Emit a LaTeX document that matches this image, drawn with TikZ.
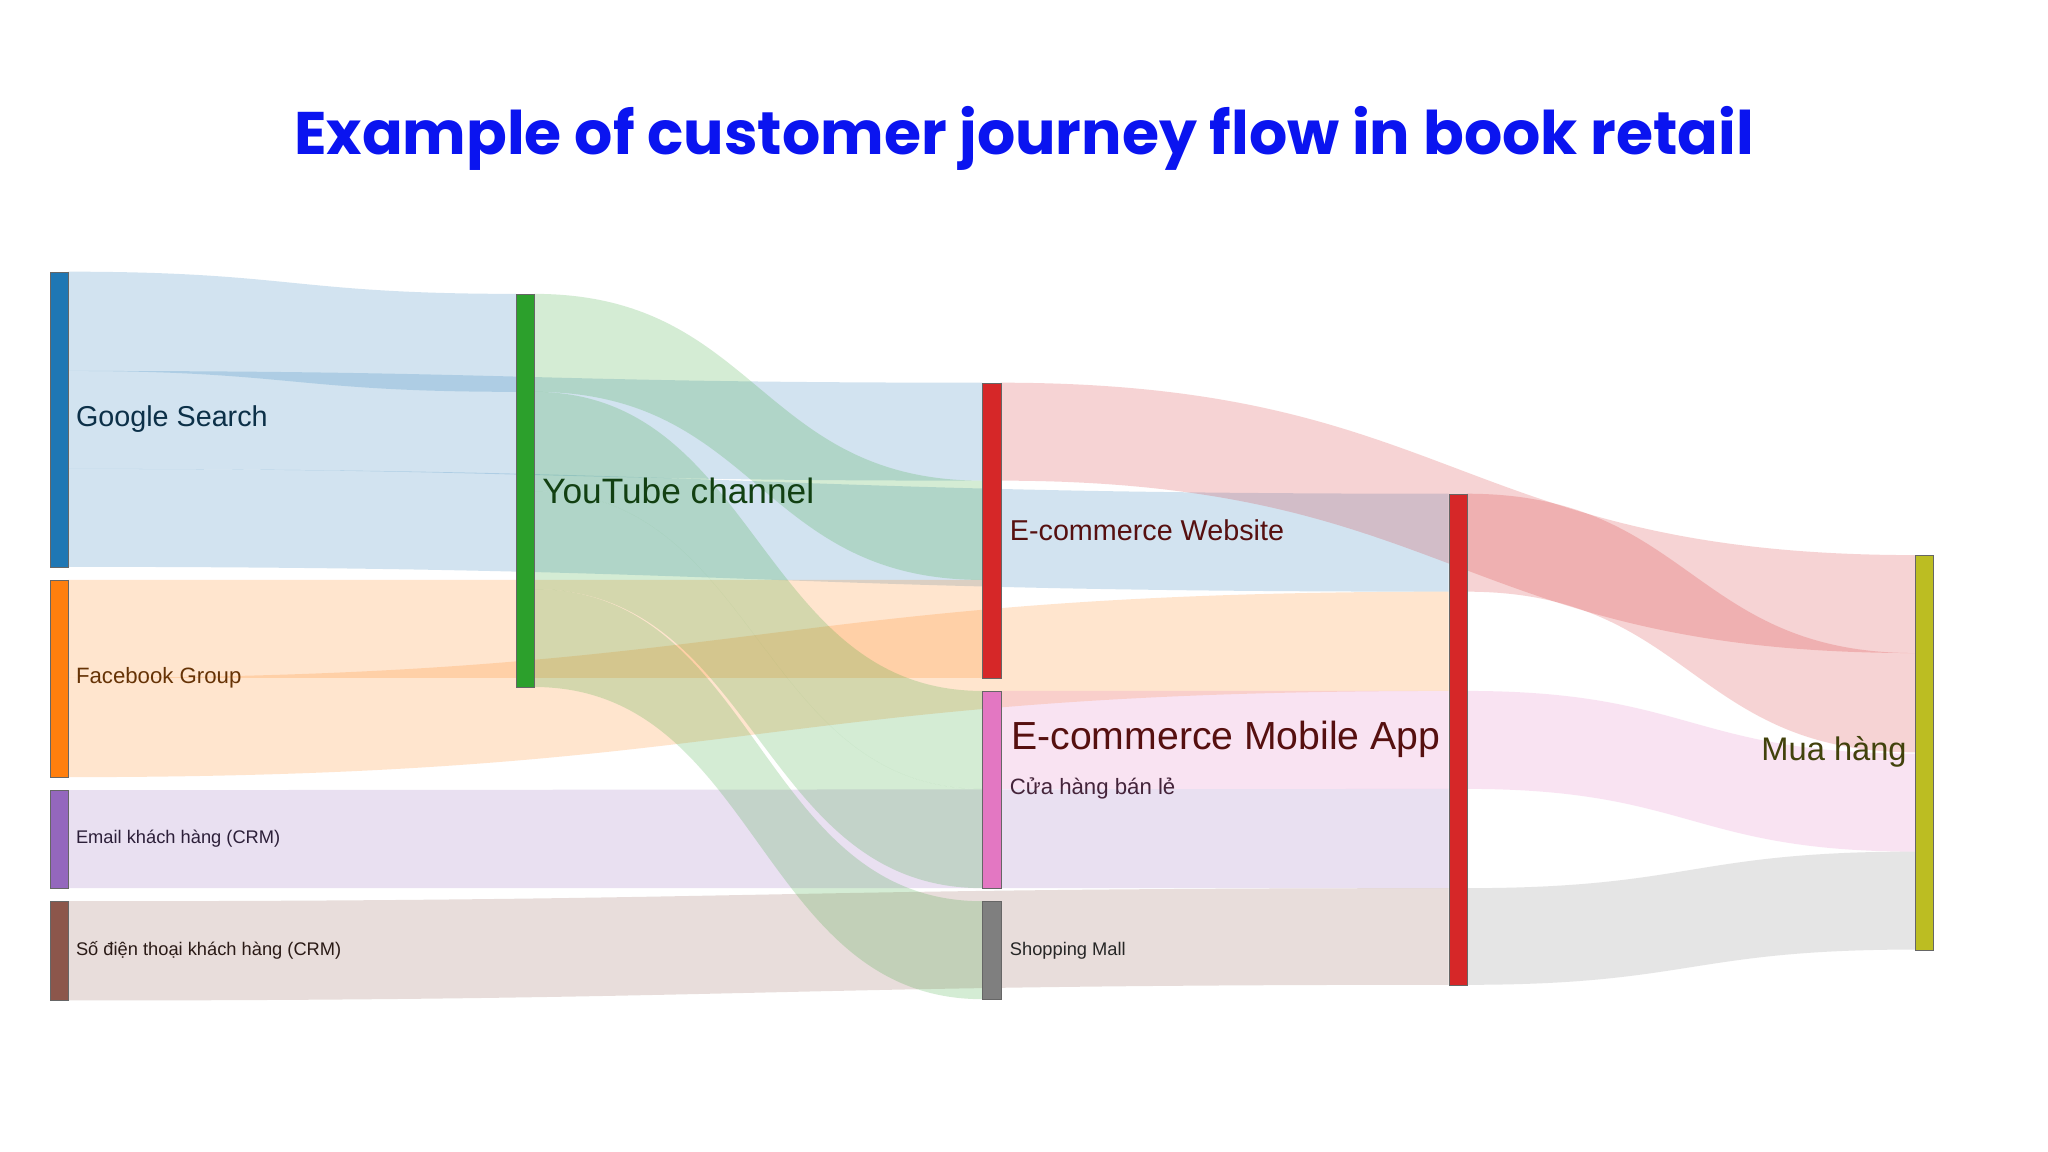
\documentclass[tikz,border=0pt]{standalone}
\usepackage{fontspec}
\setmainfont{Liberation Sans}
\newfontfamily\titlefont{Poppins}
\usetikzlibrary{positioning}
\definecolor{cgoogle}{HTML}{1F77B4}
\definecolor{cfb}{HTML}{FF7F0E}
\definecolor{cyt}{HTML}{2CA02C}
\definecolor{cweb}{HTML}{D62728}
\definecolor{cmail}{HTML}{9467BD}
\definecolor{cphone}{HTML}{8C564B}
\definecolor{capp}{HTML}{E377C2}
\definecolor{cmall}{HTML}{7F7F7F}
\definecolor{cbuy}{HTML}{BCBD22}
\definecolor{ctitle}{HTML}{0A14F0}
% band from (x1, a1..b1) to (x2, a2..b2)
\newcommand{\flowband}[7]{%
  \fill[#7, fill opacity=0.2]
    (#1,#2) .. controls ({(#1+#4)/2},#2) and ({(#1+#4)/2},#5) .. (#4,#5)
    -- (#4,#6) .. controls ({(#1+#4)/2},#6) and ({(#1+#4)/2},#3) .. (#1,#3) -- cycle;}
\begin{document}
\begin{tikzpicture}[x=1pt, y=-1pt,
  bar/.style={draw=black!60, line width=0.6pt, minimum width=14pt, inner sep=0pt, anchor=north west},
  lbl/.style={font=\fontsize{22}{24}\selectfont, anchor=west, inner sep=0pt},
  small/.style={font=\fontsize{14}{16}\selectfont, anchor=west, inner sep=0pt},
]
  \useasboundingbox[fill=white] (0,0) rectangle (1568,882);
  \node[font=\titlefont\bfseries\fontsize{46}{50}\selectfont, text=ctitle] (title) at (784,106) {Example of customer journey flow in book retail};

  % links
  \flowband{52}{208}{284}{395}{225}{300}{cgoogle}
  \flowband{52}{284}{359}{752}{293}{368}{cgoogle}
  \flowband{52}{359}{434}{1109}{378}{453}{cgoogle}
  \flowband{52}{444}{519}{752}{444}{519}{cfb}
  \flowband{52}{519}{595}{1109}{453}{529}{cfb}
  \flowband{52}{605}{680}{1109}{604}{680}{cmail}
  \flowband{52}{690}{766}{1109}{680}{754}{cphone}
  \flowband{409}{225}{300}{752}{368}{444}{cyt}
  \flowband{409}{300}{376}{752}{529}{604}{cyt}
  \flowband{409}{376}{451}{752}{604}{680}{cyt}
  \flowband{409}{451}{526}{752}{690}{765}{cyt}
  \flowband{766}{529}{604}{1109}{529}{604}{capp}
  \flowband{766}{293}{368}{1466}{425}{500}{cweb}
  \flowband{1123}{378}{453}{1466}{500}{576}{cweb}
  \flowband{1123}{529}{604}{1466}{577}{652}{capp}
  \flowband{1123}{680}{754}{1466}{652}{727}{cmall}

  % nodes
  \node[bar, fill=cgoogle, minimum height=226pt] (google) at (38,208) {};
  \node[bar, fill=cfb, minimum height=151pt] (fb) at (38,444) {};
  \node[bar, fill=cmail, minimum height=75pt] (mail) at (38,605) {};
  \node[bar, fill=cphone, minimum height=76pt] (phone) at (38,690) {};
  \node[bar, fill=cyt, minimum height=301pt] (yt) at (395,225) {};
  \node[bar, fill=cweb, minimum height=226pt] (web) at (752,293) {};
  \node[bar, fill=capp, minimum height=151pt] (app) at (752,529) {};
  \node[bar, fill=cmall, minimum height=75pt] (mall) at (752,690) {};
  \node[bar, fill=cweb, minimum height=376pt] (shop) at (1109,378) {};
  \node[bar, fill=cbuy, minimum height=302pt] (buy) at (1466,425) {};

  % labels
  \node[lbl, text=cgoogle!40!black] at (58,321) {Google Search};
  \node[small, font=\fontsize{17}{19}\selectfont, text=cfb!40!black] at (58,519) {Facebook Group};
  \node[small, text=cmail!30!black] at (58,642) {Email khách hàng (CRM)};
  \node[small, text=cphone!30!black] at (58,728) {Số điện thoại khách hàng (CRM)};
  \node[lbl, font=\fontsize{27}{29}\selectfont, text=cyt!40!black] at (415,376) {YouTube channel};
  \node[lbl, text=cweb!40!black] at (773,406) {E-commerce Website};
  \node[lbl, font=\fontsize{30}{32}\selectfont, text=cweb!40!black, anchor=east] at (1103,566) {E-commerce Mobile App};
  \node[small, font=\fontsize{17}{19}\selectfont, text=capp!30!black] at (773,604) {Cửa hàng bán lẻ};
  \node[small, text=cmall!30!black] at (773,728) {Shopping Mall};
  \node[lbl, font=\fontsize{25}{27}\selectfont, text=cbuy!35!black, anchor=east] at (1460,576) {Mua hàng};
\end{tikzpicture}
\end{document}
